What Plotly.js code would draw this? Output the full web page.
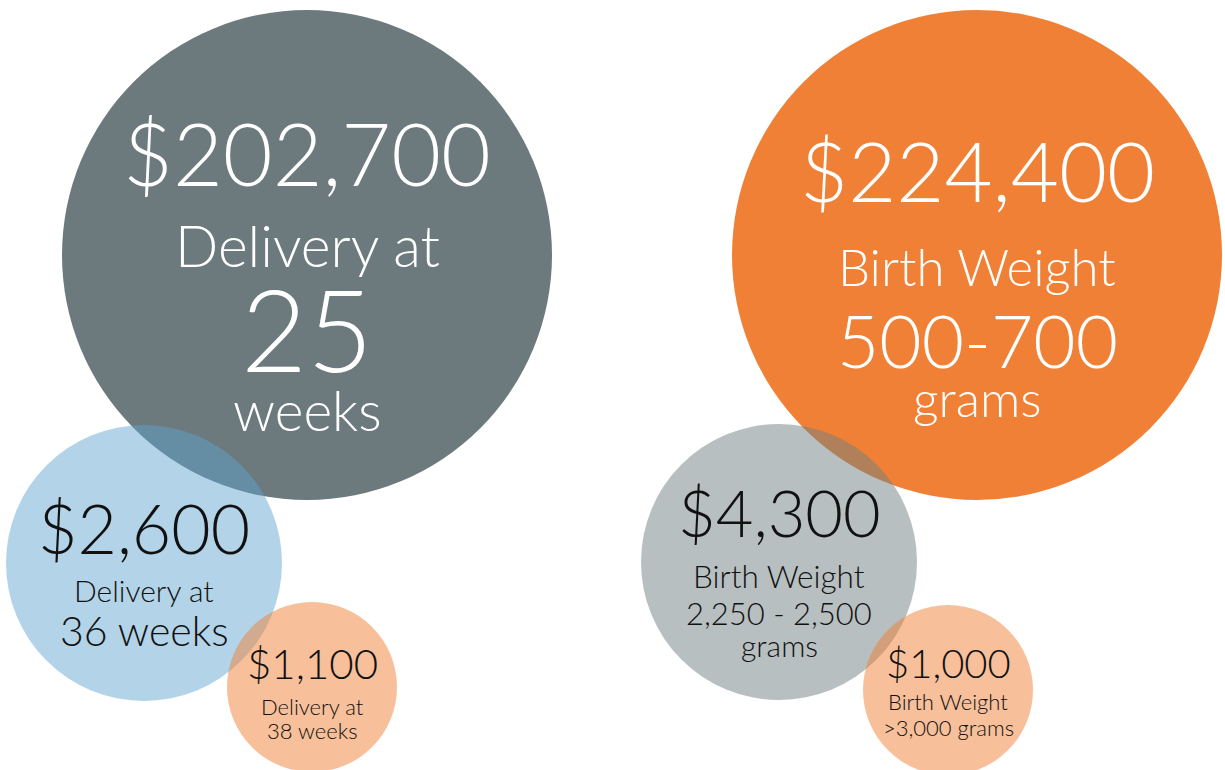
<!DOCTYPE html>
<html>
<head>
<meta charset="utf-8">
<script src="https://cdn.plot.ly/plotly-3.0.1.min.js"></script>
<style>html,body{margin:0;padding:0;background:#fff;}#chart{width:1225px;height:770px;}</style>
</head>
<body>
<div id="chart"></div>
<script>
// ---- data ----
const categories = [
  "Delivery at 25 weeks", "Delivery at 36 weeks", "Delivery at 38 weeks",
  "Birth Weight 500-700 grams", "Birth Weight 2,250 - 2,500 grams", "Birth Weight >3,000 grams"
];
const costs = [202700, 2600, 1100, 224400, 4300, 1000];
const costLabels = ["$202,700", "$2,600", "$1,100", "$224,400", "$4,300", "$1,000"];
const descLines = [
  ["Delivery at", "25", "weeks"],
  ["Delivery at", "36 weeks"],
  ["Delivery at", "38 weeks"],
  ["Birth Weight", "500-700", "grams"],
  ["Birth Weight", "2,250 - 2,500", "grams"],
  ["Birth Weight", ">3,000 grams"]
];

// ---- layout of bubbles (pixel-like coordinate system) ----
const bx = [307, 144, 312, 977, 779, 948];
const by = [255, 563, 687, 255, 562, 690];
const diam = [490, 276, 170, 490, 276, 170];
const fills = ["rgb(108,121,125)", "rgba(94,164,206,0.47)", "rgba(240,128,53,0.5)",
               "rgb(240,128,53)", "rgba(111,127,129,0.5)", "rgba(240,128,53,0.5)"];
const txtColor = ["#ffffff", "#111111", "#111111", "#ffffff", "#111111", "#111111"];

// per-line text style: [dy offset from bubble centre, font size]
const costStyle = [[-103, 86], [-36, 68], [-24, 42], [-85, 83], [-50, 65], [-27, 40]];
const descStyle = [
  [[-10, 57], [72, 114], [155, 55]],
  [[27, 30], [67, 41]],
  [[19, 22], [43, 22]],
  [[11, 51], [85, 73], [143, 50]],
  [[14, 31.5], [51, 31], [83, 30]],
  [[11, 22], [37, 22]]
];

const FONT = "Lato, 'Open Sans', sans-serif";
const annotations = [];
for (let i = 0; i < categories.length; i++) {
  annotations.push({
    x: bx[i], y: by[i] + costStyle[i][0], xref: "x", yref: "y",
    text: costLabels[i], showarrow: false, xanchor: "center", yanchor: "middle",
    font: {family: FONT, size: costStyle[i][1], color: txtColor[i], weight: 300}
  });
  descLines[i].forEach((line, j) => {
    annotations.push({
      x: bx[i], y: by[i] + descStyle[i][j][0], xref: "x", yref: "y",
      text: line, showarrow: false, xanchor: "center", yanchor: "middle",
      font: {family: FONT, size: descStyle[i][j][1], color: txtColor[i], weight: 300}
    });
  });
}

const trace = {
  type: "scatter", mode: "markers",
  x: bx, y: by,
  text: categories,
  customdata: costs,
  hovertemplate: "%{text}<br>$%{customdata:,}<extra></extra>",
  cliponaxis: false,
  marker: {size: diam, sizemode: "diameter", color: fills, opacity: 1, line: {width: 0}}
};

const layout = {
  width: 1225, height: 770,
  margin: {l: 0, r: 0, t: 0, b: 0, pad: 0},
  paper_bgcolor: "#ffffff", plot_bgcolor: "#ffffff",
  showlegend: false,
  xaxis: {range: [0, 1225], visible: false, fixedrange: true},
  yaxis: {range: [770, 0], visible: false, fixedrange: true},
  annotations: annotations
};

Plotly.newPlot("chart", [trace], layout, {displayModeBar: false, staticPlot: true});
</script>
</body>
</html>
